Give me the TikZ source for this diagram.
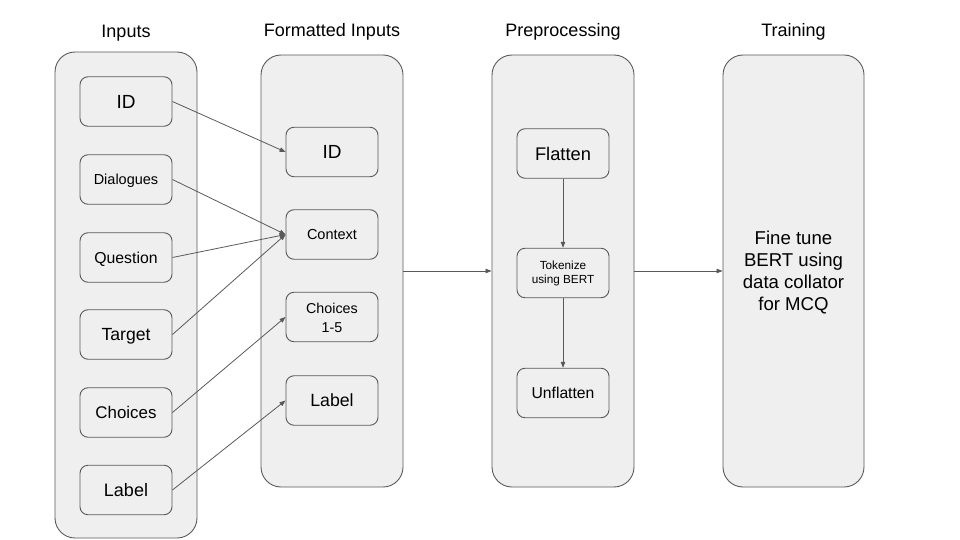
\documentclass[tikz,border=0pt]{standalone}
\usepackage{fontspec}
\setmainfont{Liberation Sans}
\usetikzlibrary{arrows.meta}
\definecolor{boxfill}{HTML}{EFEFEF}
\definecolor{linegray}{HTML}{595959}
\newcommand{\fs}[2]{\fontsize{#1}{#2}\selectfont}
\begin{document}
\begin{tikzpicture}[x=1pt,y=-1pt,
  outerbox/.style={draw=linegray,fill=boxfill,line width=0.9pt,rounded corners=20pt,minimum width=142pt,inner sep=0pt},
  innerbox/.style={draw=linegray,fill=boxfill,line width=0.9pt,rounded corners=8pt,minimum width=92pt,minimum height=49.5pt,inner sep=0pt,align=center},
  capc/.style={text height=#1,text depth=0pt},
  title/.style={inner sep=0pt,font=\fs{18}{22},capc=12.9pt},
  conn/.style={draw=linegray,line width=0.8pt,-{Triangle[length=6pt,width=4.5pt]}}
]
\useasboundingbox (0,0) rectangle (960,540);
% titles
\node[title] (t1) at (126,31.5) {Inputs};
\node[title] (t2) at (332,29.7) {Formatted Inputs};
\node[title] (t3) at (563,29.7) {Preprocessing};
\node[title] (t4) at (793.5,29.7) {Training};
% outer boxes
\node[outerbox,minimum height=486pt] (inp) at (126,295) {};
\node[outerbox,minimum height=432pt] (fmt) at (332,271) {};
\node[outerbox,minimum height=432pt] (pre) at (563,271) {};
\node[outerbox,minimum width=141pt,minimum height=432pt,align=center,font=\fs{18.6}{22}] (trn) at (793.5,271) {\rule{0pt}{16.3pt}Fine tune\\BERT using\\data collator\\for MCQ};
% inputs
\node[innerbox,font=\fs{19}{22},capc=13.6pt] (iid) at (126,101.5) {ID};
\node[innerbox,font=\fs{14.5}{18},capc=10.4pt] (idia) at (126,179.5) {Dialogues};
\node[innerbox,font=\fs{15.8}{19},capc=11.3pt] (ique) at (126,257.5) {Question};
\node[innerbox,font=\fs{17.6}{21},capc=12.6pt] (itar) at (126,334.5) {Target};
\node[innerbox,font=\fs{16.9}{20},capc=12.1pt] (icho) at (126,412.5) {Choices};
\node[innerbox,font=\fs{18}{21},capc=12.9pt] (ilab) at (126,490) {Label};
% formatted
\node[innerbox,font=\fs{19}{22},capc=13.6pt] (fid) at (332,152) {ID};
\node[innerbox,font=\fs{14.5}{18},capc=10.4pt] (fctx) at (332,234.5) {Context};
\node[innerbox,font=\fs{14.3}{18.3}] (fcho) at (332,317) {\rule{0pt}{12pt}Choices\\1-5};
\node[innerbox,font=\fs{17.7}{21},capc=12.7pt] (flab) at (332,400.5) {Label};
% preprocessing
\node[innerbox,font=\fs{18.3}{22},capc=13.1pt] (pfl) at (563,153.5) {Flatten};
\node[innerbox,font=\fs{11.75}{14}] (ptok) at (563,273) {\rule{0pt}{10.4pt}Tokenize\\using BERT};
\node[innerbox,font=\fs{15.7}{19},capc=11.2pt] (punf) at (563,393) {Unflatten};
% connectors
\draw[conn] (iid.east) -- (fid.west);
\draw[conn] (idia.east) -- (fctx.west);
\draw[conn] (ique.east) -- (fctx.west);
\draw[conn] (itar.east) -- (fctx.west);
\draw[conn] (icho.east) -- (fcho.west);
\draw[conn] (ilab.east) -- (flab.west);
\draw[conn] (fmt.east) -- (pre.west);
\draw[conn] (pre.east) -- (trn.west);
\draw[conn] (pfl.south) -- (ptok.north);
\draw[conn] (ptok.south) -- (punf.north);
\end{tikzpicture}
\end{document}
